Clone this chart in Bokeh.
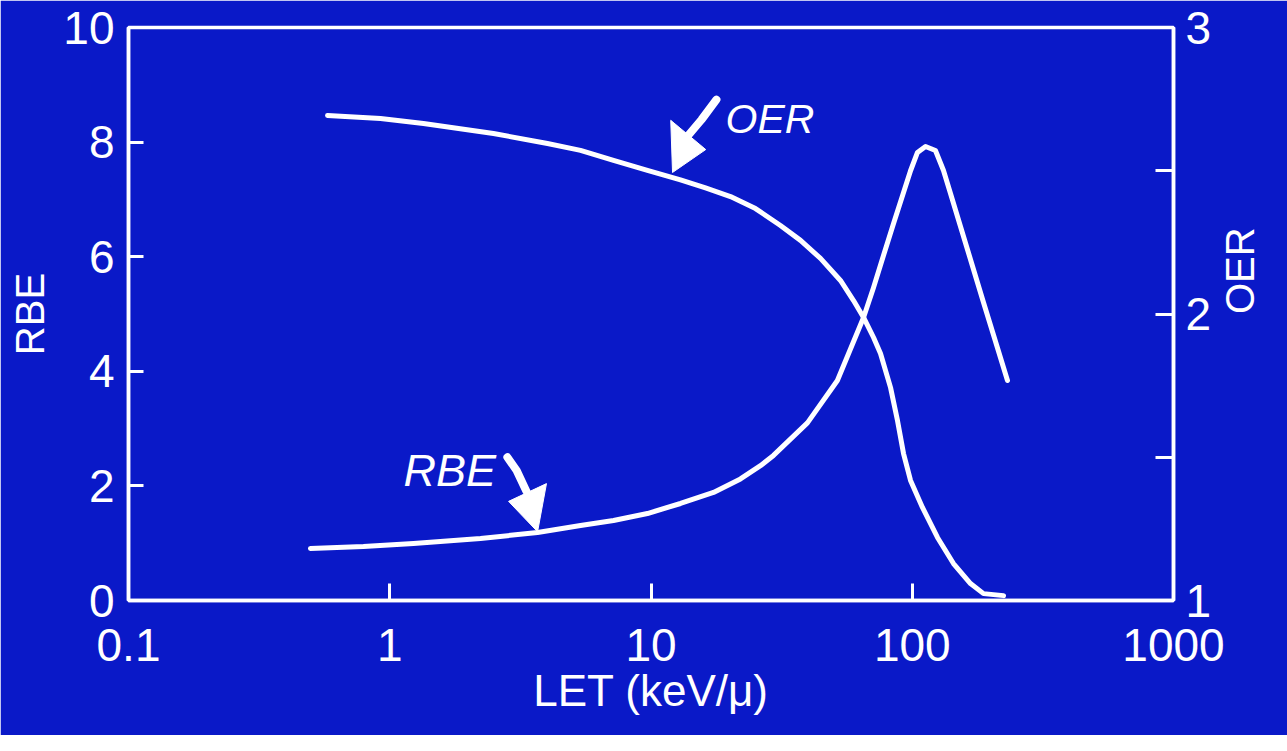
import math
from bokeh.plotting import figure
from bokeh.models import Range1d, LinearAxis, FixedTicker, Label
from bokeh.embed import file_html
from bokeh.resources import INLINE

# ---- data ----
let_rbe = [0.497, 0.793, 1.233, 2.225, 3.679, 5.373, 7.186, 9.69, 12.97, 17.35, 22.0,
           26.25, 29.43, 39.7, 51.7, 65.1, 71.1, 77.6, 84.8, 92.6, 98.5, 104.7, 112.4,
           122.7, 131.7, 140.1, 153.0, 171.6, 187.4, 208.3, 231.5]
rbe = [0.907, 0.942, 0.995, 1.082, 1.187, 1.309, 1.396, 1.518, 1.693, 1.885, 2.122,
       2.353, 2.532, 3.10, 3.839, 4.939, 5.462, 6.02, 6.58, 7.12, 7.50, 7.819, 7.923,
       7.853, 7.504, 7.103, 6.527, 5.777, 5.201, 4.520, 3.839]

let_oer = [0.578, 0.922, 1.346, 2.495, 4.016, 5.373, 7.186, 9.69, 12.97, 16.17, 20.15,
           25.12, 31.3, 37.35, 44.55, 53.12, 59.6, 65.1, 71.1, 75.6, 82.6, 87.8, 92.6,
           98.5, 109.4, 124.9, 143.8, 167.1, 187.4, 223.6]
oer = [2.693, 2.682, 2.665, 2.630, 2.595, 2.571, 2.536, 2.501, 2.468, 2.440, 2.410,
       2.368, 2.309, 2.257, 2.194, 2.117, 2.047, 1.988, 1.918, 1.862, 1.743, 1.628, 1.513,
       1.419, 1.325, 1.220, 1.129, 1.059, 1.024, 1.017]

x_ticks = [0.1, 1, 10, 100, 1000]
x_tick_labels = ["0.1", "1", "10", "100", "1000"]
rbe_ticks = [0, 2, 4, 6, 8, 10]
oer_ticks = [1, 2, 3]
oer_minor = [1.5, 2.5]

BG = "#0a19c8"
FG = "white"
FONT = "Liberation Sans"

p = figure(frame_width=1045, frame_height=573, x_axis_type="log",
           x_range=Range1d(0.1, 1000), y_range=Range1d(0, 10),
           output_backend="svg", toolbar_location=None,
           min_border_left=128, min_border_right=98, min_border_top=27, min_border_bottom=135,
           background_fill_color=BG, border_fill_color=BG,
           outline_line_color=FG, outline_line_width=3.5)
p.extra_y_ranges = {"oer": Range1d(1, 3)}
p.grid.visible = False

right = LinearAxis(y_range_name="oer")
p.add_layout(right, "right")

def style(ax, tick_len):
    ax.axis_line_color = FG
    ax.axis_line_width = 3.5
    ax.major_tick_line_color = FG
    ax.major_tick_line_width = 3
    ax.major_tick_in = tick_len
    ax.major_tick_out = 0
    ax.minor_tick_line_color = FG
    ax.minor_tick_line_width = 3
    ax.minor_tick_in = tick_len
    ax.minor_tick_out = 0
    ax.major_label_text_color = FG
    ax.major_label_text_font = FONT
    ax.major_label_text_font_size = "46px"
    ax.axis_label_text_color = FG
    ax.axis_label_text_font = FONT
    ax.axis_label_text_font_style = "normal"

xax = p.xaxis[0]
style(xax, 17)
xax.ticker = FixedTicker(ticks=x_ticks)
xax.major_label_overrides = {t: s for t, s in zip(x_ticks, x_tick_labels)}
xax.minor_tick_line_color = None
xax.axis_label = "LET (keV/μ)"
xax.axis_label_text_font_size = "44px"
xax.major_label_standoff = 28
xax.axis_label_standoff = 2

yax = p.yaxis[0]
style(yax, 15)
yax.ticker = FixedTicker(ticks=rbe_ticks)
yax.minor_tick_line_color = None
yax.axis_label = "RBE"
yax.axis_label_text_font_size = "40px"
yax.major_label_standoff = 14
yax.axis_label_standoff = 8

style(right, 18)
right.ticker = FixedTicker(ticks=oer_ticks, minor_ticks=oer_minor)
right.major_label_standoff = 12
right.axis_label = "OER"
right.axis_label_text_font_size = "40px"
right.axis_label_orientation = math.pi / 2
right.axis_label_text_align = "center"
right.axis_label_standoff = 26

# curves
p.line(let_rbe, rbe, line_color=FG, line_width=5, line_join="round", line_cap="round")
p.line(let_oer, oer, y_range_name="oer", line_color=FG, line_width=5,
       line_join="round", line_cap="round")

# annotation arrows (positions in data units)
oer_shaft_x = [17.8, 15.6, 13.9]
oer_shaft_y = [8.74, 8.39, 8.12]
oer_head_x = [11.9, 16.2, 12.09]
oer_head_y = [8.38, 7.87, 7.47]
rbe_shaft_x = [2.82, 3.06, 3.34]
rbe_shaft_y = [2.50, 2.27, 1.90]
rbe_head_x = [2.85, 3.98, 3.68]
rbe_head_y = [1.73, 2.04, 1.20]

for sx, sy, hx, hy in [(oer_shaft_x, oer_shaft_y, oer_head_x, oer_head_y),
                       (rbe_shaft_x, rbe_shaft_y, rbe_head_x, rbe_head_y)]:
    p.line(sx, sy, line_color=FG, line_width=8, line_cap="round", line_join="round")
    p.patch(hx, hy, fill_color=FG, line_color=FG, line_width=1)

p.add_layout(Label(x=19.3, y=8.41, text="OER", text_color=FG, text_font=FONT,
                   text_font_style="italic", text_font_size="41px",
                   text_align="left", text_baseline="alphabetic"))
p.add_layout(Label(x=1.129, y=2.27, text="RBE", text_color=FG, text_font=FONT,
                   text_font_style="italic", text_font_size="45px",
                   text_align="left", text_baseline="alphabetic"))

open("out.html", "w").write(file_html(p, INLINE))
